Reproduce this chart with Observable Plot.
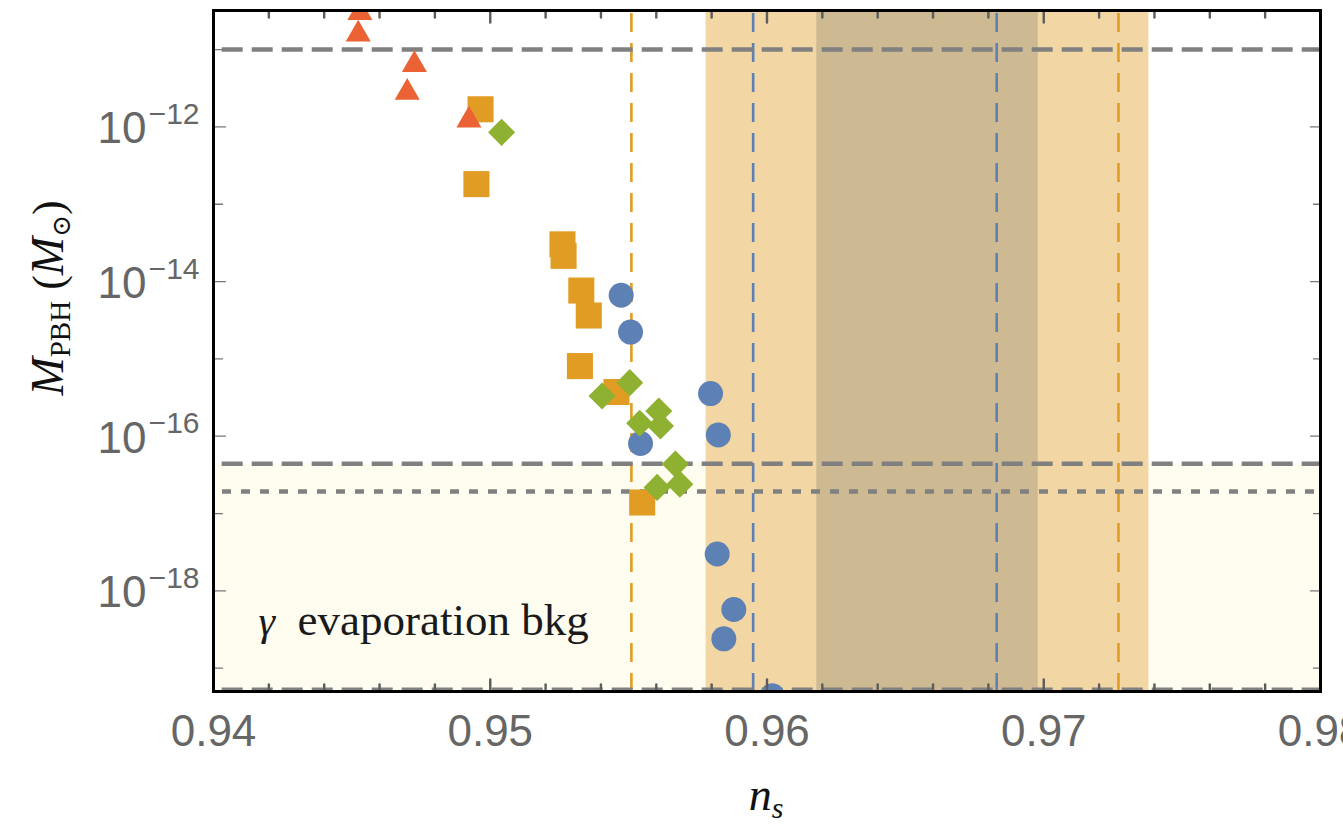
<!DOCTYPE html>
<html><head><meta charset="utf-8">
<script src="https://cdn.jsdelivr.net/npm/d3@7"></script>
<script src="https://cdn.jsdelivr.net/npm/@observablehq/plot@0.6"></script>
<style>
html,body{margin:0;padding:0;background:#fff;overflow:hidden;}
</style></head><body><div id="chart"></div>
<script>
// ---- data ----
const xDomain = [0.94, 0.98];
const yDomain = [5e-20, 3.2e-11];
const xTickLabels = [0.94, 0.95, 0.96, 0.97, 0.98];
const xMinorTicks = [0.942,0.944,0.946,0.948,0.952,0.954,0.956,0.958,0.962,0.964,0.966,0.968,0.972,0.974,0.976,0.978];
const yLabelDecades = [1e-12, 1e-14, 1e-16, 1e-18];
const yLabelExponents = ["\u221212", "\u221214", "\u221216", "\u221218"];
const yMinorDecades = [1e-11, 1e-13, 1e-15, 1e-17, 1e-19];

// blue circles
const circlesNs = [0.95473, 0.95507, 0.95796, 0.95824, 0.95543, 0.95820, 0.95880, 0.95844, 0.96019];
const circlesM  = [6.65e-15, 2.22e-15, 3.56e-16, 1.04e-16, 8.05e-17, 3.0e-18, 5.74e-19, 2.4e-19, 4.4e-20];
// orange squares
const squaresNs = [0.94965, 0.94950, 0.95261, 0.95265, 0.95329, 0.95356, 0.95324, 0.95456, 0.95549];
const squaresM  = [1.69e-12, 1.82e-13, 3.03e-14, 2.15e-14, 7.65e-15, 3.64e-15, 8.07e-16, 3.73e-16, 1.39e-17];
// green diamonds
const diamondsNs = [0.95041, 0.95404, 0.95504, 0.95609, 0.95540, 0.95615, 0.95669, 0.95603, 0.95685];
const diamondsM  = [8.5e-13, 3.31e-16, 4.93e-16, 2.12e-16, 1.47e-16, 1.36e-16, 4.36e-17, 2.18e-17, 2.40e-17];
// red triangles
const trianglesNs = [0.94529, 0.94523, 0.94726, 0.94700, 0.94923];
const trianglesM  = [3.0e-11, 1.58e-11, 6.37e-12, 2.78e-12, 1.22e-12];

// ns bands and reference lines
const band2sigma = [0.9578, 0.9738];
const band1sigma = [0.9618, 0.9698];
const orangeLinesNs = [0.9551, 0.9727];
const blueLinesNs = [0.9595, 0.9683];
const dashedLinesM = [1e-11, 4.4e-17];
const dottedLinesM = [1.93e-17];
const bottomDashedM = [5.25e-20];
const evapBkgTop = 4.4e-17;

const BLUE = "#5E81B5", ORANGE = "#E19C24", GREEN = "#8FB131", RED = "#EB6235";

const pts = (xs, ys) => xs.map((x, i) => ({x, y: ys[i]}));
const tickShape = {draw(context, l) { context.moveTo(0, 0); context.lineTo(0, -l); }};
const xTick = (data, anchor, len) => Plot.vector(data, {x: d => d, frameAnchor: anchor, length: len,
  rotate: anchor === "bottom" ? 0 : 180, anchor: "start", shape: tickShape, stroke: "#5c5c5c", strokeWidth: 2.4});
const yTick = (data, anchor, len) => Plot.vector(data, {y: d => d, frameAnchor: anchor, length: len,
  rotate: anchor === "left" ? 90 : -90, anchor: "start", shape: tickShape, stroke: "#777", strokeWidth: 1.3});

const chart = Plot.plot({
  width: 1343,
  height: 829,
  marginLeft: 213,
  marginRight: 23,
  marginTop: 10,
  marginBottom: 138,
  style: {fontFamily: "'Liberation Sans', Arial, sans-serif", background: "#fff"},
  x: {domain: xDomain, axis: null},
  y: {type: "log", domain: yDomain, axis: null},
  marks: [
    // evaporation background region
    Plot.rect([{x1: xDomain[0], x2: xDomain[1], y1: yDomain[0], y2: evapBkgTop}], {x1: "x1", x2: "x2", y1: "y1", y2: "y2", fill: "#FEFDF0"}),
    // n_s bands
    Plot.rect([{a: band2sigma[0], b: band2sigma[1]}], {x1: "a", x2: "b", fill: "#F2D6A3"}),
    Plot.rect([{a: band1sigma[0], b: band1sigma[1]}], {x1: "a", x2: "b", fill: "#CDB992"}),
    // vertical dashed lines
    Plot.ruleX(orangeLinesNs, {stroke: ORANGE, strokeWidth: 2.6, strokeDasharray: "19,11", strokeDashoffset: -3}),
    Plot.ruleX(blueLinesNs, {stroke: BLUE, strokeWidth: 2.6, strokeDasharray: "19,11", strokeDashoffset: -3}),
    // horizontal gray lines
    Plot.ruleY(dashedLinesM, {stroke: "#808080", strokeWidth: 4.5, strokeDasharray: "21,9", strokeDashoffset: 21.3}),
    Plot.ruleY(dottedLinesM, {stroke: "#808080", strokeWidth: 4.5, strokeDasharray: "9,10", strokeDashoffset: 10}),
    Plot.ruleY(bottomDashedM, {stroke: "#808080", strokeWidth: 4.5, strokeDasharray: "21,9", strokeDashoffset: 21.3}),
    // annotation
    Plot.text(["\u03B3"], {x: () => 0.94163, y: () => 2.71e-19, text: d => d, textAnchor: "start", lineAnchor: "bottom",
      fontFamily: "'Liberation Serif', 'DejaVu Serif', serif", fontStyle: "italic", fontSize: 42, fill: "#1a1a1a"}),
    Plot.text(["evaporation bkg"], {x: () => 0.94163, y: () => 2.71e-19, text: d => d, textAnchor: "start", lineAnchor: "bottom", dx: 39,
      fontFamily: "'Liberation Serif', 'DejaVu Serif', serif", fontSize: 45, fill: "#1a1a1a"}),
    // data points
    Plot.dot(pts(circlesNs, circlesM), {x: "x", y: "y", symbol: "circle", r: 12.5, fill: BLUE, clip: true}),
    Plot.dot(pts(squaresNs, squaresM), {x: "x", y: "y", symbol: "square", r: 14.7, fill: ORANGE, clip: true}),
    Plot.dot(pts(diamondsNs, diamondsM), {x: "x", y: "y", symbol: "diamond2", r: 12.2, fill: GREEN, clip: true}),
    Plot.dot(pts(trianglesNs, trianglesM), {x: "x", y: "y", symbol: "triangle", r: 9.3, fill: RED, clip: true}),
    // ticks (inward)
    xTick(xMinorTicks, "bottom", 7),
    xTick(xTickLabels, "bottom", 12),
    xTick(xMinorTicks, "top", 7),
    xTick(xTickLabels, "top", 12),
    yTick(yLabelDecades, "left", 12),
    yTick(yMinorDecades, "left", 9),
    yTick(yLabelDecades, "right", 10),
    yTick(yMinorDecades, "right", 7),
    // frame
    Plot.frame({stroke: "#000", strokeWidth: 3}),
    // tick labels
    Plot.text(xTickLabels, {x: d => d, frameAnchor: "bottom", lineAnchor: "bottom", dy: 54, text: d => String(d),
      fontSize: 44, fill: "#666"}),
    Plot.text(yLabelDecades, {y: d => d, frameAnchor: "left", textAnchor: "end", lineAnchor: "bottom", dx: -67, dy: 16.5,
      text: () => "10", fontSize: 44, fill: "#666"}),
    Plot.text(yLabelDecades, {y: d => d, frameAnchor: "left", textAnchor: "end", lineAnchor: "bottom", dx: -14, dy: -3,
      text: (d, i) => yLabelExponents[i], fontSize: 30, fill: "#666"})
  ]
});

document.getElementById("chart").appendChild(chart);

// axis titles with sub-scripts
const svg = d3.select(chart);
const serif = "'Liberation Serif', 'DejaVu Serif', serif";
const yt = svg.append("text")
  .attr("transform", "translate(63,298) rotate(-90)")
  .attr("text-anchor", "middle")
  .attr("font-family", serif)
  .attr("fill", "#111");
yt.append("tspan").attr("font-style", "italic").attr("font-size", 46).text("M");
yt.append("tspan").attr("font-size", 29).attr("dy", 7).text("PBH");
yt.append("tspan").attr("font-size", 44).attr("dy", -7).text(" (");
yt.append("tspan").attr("font-style", "italic").attr("font-size", 46).text("M");
yt.append("tspan").attr("font-size", 26).attr("dy", 7).text("\u2299");
yt.append("tspan").attr("font-size", 44).attr("dy", -7).text(")");

const xt = svg.append("text")
  .attr("transform", "translate(766,810)")
  .attr("text-anchor", "middle")
  .attr("font-family", serif)
  .attr("fill", "#111");
xt.append("tspan").attr("font-style", "italic").attr("font-size", 46).text("n");
xt.append("tspan").attr("font-style", "italic").attr("font-size", 30).attr("dy", 8).text("s");
</script>
</body></html>
